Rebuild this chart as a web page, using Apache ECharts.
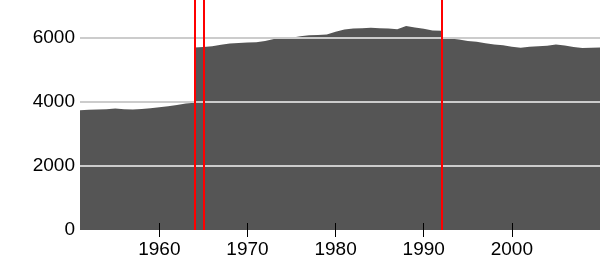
<!DOCTYPE html>
<html>
<head>
<meta charset="utf-8">
<script src="https://cdn.jsdelivr.net/npm/echarts@6/dist/echarts.min.js"></script>
<style>
html,body{margin:0;padding:0;background:#fff;}
#chart{width:600px;height:260px;}
</style>
</head>
<body>
<div id="chart"></div>
<script>
// Years (duplicated years mark vertical jumps in the series)
const years = [1951,1952,1953,1954,1955,1956,1957,1958,1959,1960,1961,1962,1963,1964,1964,1965,1966,1967,1968,1969,1970,1971,1972,1973,1974,1975,1976,1977,1978,1979,1980,1981,1982,1983,1984,1985,1986,1987,1988,1989,1990,1991,1992,1992,1993,1994,1995,1996,1997,1998,1999,2000,2001,2002,2003,2004,2005,2006,2007,2008,2009,2010];
const values = [3740,3750,3760,3770,3790,3770,3760,3780,3800,3830,3860,3900,3950,3970,5700,5710,5740,5780,5820,5840,5850,5860,5900,5960,5990,6000,6050,6080,6090,6100,6190,6260,6290,6300,6310,6300,6290,6270,6370,6320,6280,6230,6220,5980,5980,5950,5900,5880,5830,5790,5770,5720,5690,5720,5740,5750,5790,5760,5710,5680,5690,5700];
const markerYears = [1964, 1965, 1992];
const xTickLabels = [1960, 1970, 1980, 1990, 2000];
const yTickLabels = [0, 2000, 4000, 6000];
const gridValues = [2000, 4000, 6000];

const seriesData = years.map((y, i) => [y, values[i]]);
const font = '"Liberation Sans", Arial, sans-serif';

const chart = echarts.init(document.getElementById('chart'), null, {renderer: 'canvas'});
chart.setOption({
  animation: false,
  backgroundColor: '#ffffff',
  grid: {left: 80, right: 0, top: 0, bottom: 30, containLabel: false},
  xAxis: [{
    type: 'value', min: 1951, max: 2010, position: 'bottom',
    axisLine: {show: false},
    splitLine: {show: false},
    axisTick: {show: true, inside: false, length: 7, customValues: xTickLabels, lineStyle: {color: '#000', width: 1}},
    axisLabel: {customValues: xTickLabels, formatter: v => String(v), color: '#000', fontFamily: font, fontSize: 19, margin: 10}
  }, {
    type: 'value', min: 1951, max: 2010, position: 'bottom',
    axisLine: {show: false},
    splitLine: {show: false},
    axisTick: {show: true, inside: true, length: 7, customValues: xTickLabels, lineStyle: {color: '#000', width: 1}},
    axisLabel: {show: false},
    z: 10
  }],
  yAxis: {
    type: 'value', min: 0, max: 7180,
    axisLine: {show: false},
    axisTick: {show: false},
    splitLine: {show: false},
    axisLabel: {customValues: yTickLabels, formatter: v => String(v), color: '#000', fontFamily: font, fontSize: 19, margin: 5}
  },
  series: [{
    type: 'line',
    data: seriesData,
    xAxisIndex: 0,
    symbol: 'none',
    lineStyle: {width: 0},
    areaStyle: {color: '#555555', opacity: 1},
    z: 2
  }, {
    type: 'line',
    data: [],
    xAxisIndex: 0,
    z: 5,
    markLine: {
      silent: true, symbol: 'none', animation: false,
      label: {show: false},
      lineStyle: {color: '#cccccc', width: 2, type: 'solid'},
      data: gridValues.map(v => ({yAxis: v}))
    }
  }, {
    type: 'line',
    data: [],
    xAxisIndex: 0,
    z: 6,
    markLine: {
      silent: true, symbol: 'none', animation: false,
      label: {show: false},
      lineStyle: {color: '#ff0000', width: 2, type: 'solid'},
      data: markerYears.map(v => ({xAxis: v}))
    }
  }]
});
</script>
</body>
</html>
